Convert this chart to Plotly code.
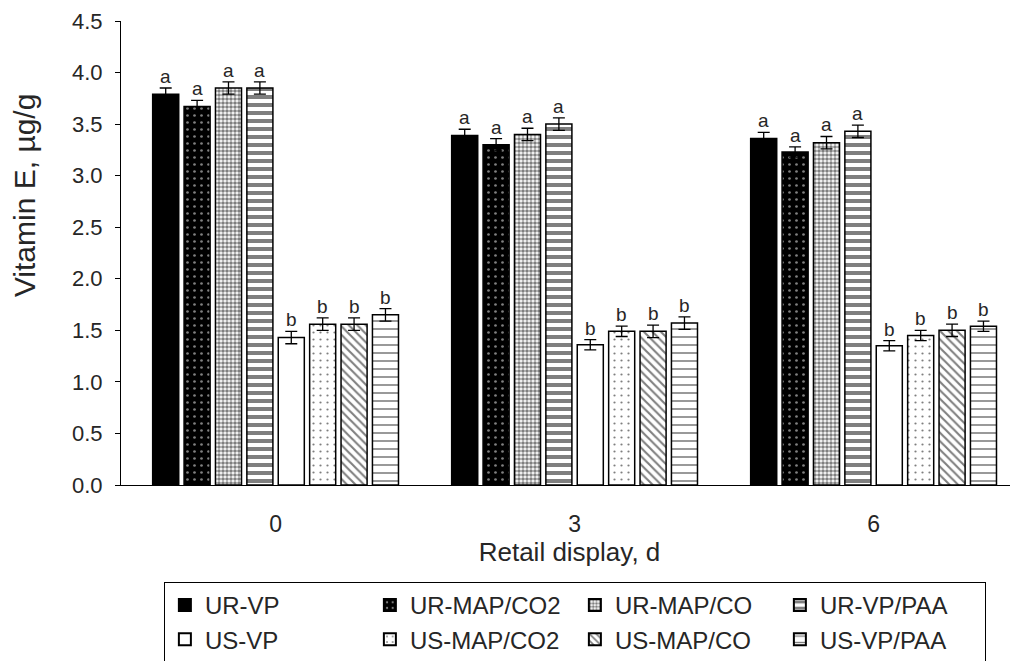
import plotly.graph_objects as go

days = ["0", "3", "6"]
series = ["UR-VP", "UR-MAP/CO2", "UR-MAP/CO", "UR-VP/PAA",
          "US-VP", "US-MAP/CO2", "US-MAP/CO", "US-VP/PAA"]

ur_vp = [3.79, 3.39, 3.36]
ur_map_co2 = [3.67, 3.30, 3.23]
ur_map_co = [3.85, 3.40, 3.32]
ur_vp_paa = [3.85, 3.50, 3.43]
us_vp = [1.43, 1.36, 1.35]
us_map_co2 = [1.56, 1.49, 1.45]
us_map_co = [1.56, 1.49, 1.50]
us_vp_paa = [1.65, 1.57, 1.54]

err_ur_vp = [0.06, 0.06, 0.06]
err_ur_map_co2 = [0.06, 0.06, 0.05]
err_ur_map_co = [0.06, 0.06, 0.06]
err_ur_vp_paa = [0.06, 0.06, 0.06]
err_us_vp = [0.06, 0.05, 0.05]
err_us_map_co2 = [0.06, 0.05, 0.05]
err_us_map_co = [0.06, 0.06, 0.06]
err_us_vp_paa = [0.06, 0.06, 0.05]

letters_ur = ["a", "a", "a"]
letters_us = ["b", "b", "b"]

values = [ur_vp, ur_map_co2, ur_map_co, ur_vp_paa, us_vp, us_map_co2, us_map_co, us_vp_paa]
errors = [err_ur_vp, err_ur_map_co2, err_ur_map_co, err_ur_vp_paa,
          err_us_vp, err_us_map_co2, err_us_map_co, err_us_vp_paa]
letters = [letters_ur] * 4 + [letters_us] * 4

styles = [
    dict(color="black"),
    dict(color="black", pattern=dict(shape=".", fgcolor="white", bgcolor="black", size=7, solidity=0.12)),
    dict(color="white", pattern=dict(shape=".", fgcolor="black", bgcolor="white", size=4, solidity=0.65)),
    dict(color="white", pattern=dict(shape="-", fgcolor="black", bgcolor="white", size=8, solidity=0.5)),
    dict(color="white"),
    dict(color="white", pattern=dict(shape=".", fgcolor="black", bgcolor="white", size=7, solidity=0.08)),
    dict(color="white", pattern=dict(shape="\\", fgcolor="black", bgcolor="white", size=6, solidity=0.35)),
    dict(color="white", pattern=dict(shape="-", fgcolor="black", bgcolor="white", size=8, solidity=0.2)),
]

FONT = "Liberation Sans, Arial"
TXT = "#262626"
BARGAP = 0.16
fig = go.Figure()
for name, vals, errs, st in zip(series, values, errors, styles):
    fig.add_trace(go.Bar(
        x=days, y=vals, name=name,
        marker=dict(line=dict(color="black", width=1.5), **st),
        error_y=dict(type="data", array=errs, color="black", thickness=1.3, width=6),
    ))

n = len(series)
slot = (1 - BARGAP) / n
annotations = []
for j, (vals, errs, lets) in enumerate(zip(values, errors, letters)):
    for i in range(len(days)):
        annotations.append(dict(
            x=i + (j - (n - 1) / 2) * slot, y=vals[i] + errs[i], xref="x", yref="y",
            text=lets[i], showarrow=False, yanchor="bottom", yshift=-1,
            font=dict(family=FONT, size=19, color=TXT),
        ))

# y-axis title (placed above the centre, as in the original)
annotations.append(dict(
    text="Vitamin E, µg/g", xref="paper", yref="paper", x=-0.108, y=0.625,
    textangle=-90, showarrow=False, xanchor="center", yanchor="middle",
    font=dict(family=FONT, size=30, color=TXT),
))

fig.update_layout(
    width=1010, height=653,
    margin=dict(l=113, r=0, t=13, b=176, autoexpand=False),
    paper_bgcolor="white", plot_bgcolor="white",
    barmode="group", bargap=BARGAP, bargroupgap=0.17,
    font=dict(family=FONT, color=TXT),
    annotations=annotations,
    showlegend=True,
    legend=dict(
        orientation="h", x=0.506, xanchor="center", y=-0.209, yanchor="top",
        bordercolor="black", borderwidth=1, bgcolor="white",
        font=dict(size=24, color=TXT),
        entrywidth=160, entrywidthmode="pixels",
        traceorder="normal", itemsizing="constant",
        tracegroupgap=0,
    ),
)
fig.update_xaxes(
    type="category", range=[-0.517, 2.483], automargin=False,
    showline=True, linecolor="black", linewidth=1,
    ticks="", showgrid=False, ticklabelstandoff=18,
    tickfont=dict(size=23, color=TXT),
    title=dict(text="Retail display, d", font=dict(size=26, color=TXT), standoff=4),
)
fig.update_yaxes(
    range=[0, 4.5], dtick=0.5, tickformat=".1f", automargin=False,
    showline=True, linecolor="black", linewidth=1,
    ticks="outside", ticklen=5, tickcolor="black", ticklabeloverflow="allow",
    showgrid=False, zeroline=False, ticklabelstandoff=8,
    tickfont=dict(size=22, color=TXT),
)

fig.write_html("out.html")
